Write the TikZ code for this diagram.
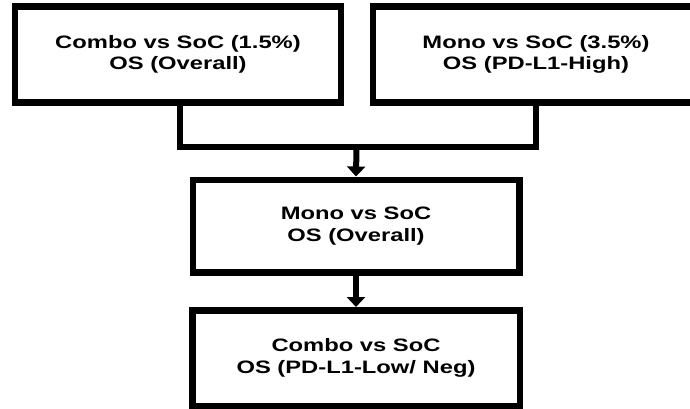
\documentclass[tikz,border=0pt]{standalone}
\usepackage{fontspec}
\usetikzlibrary{arrows.meta}
\newfontfamily\boxfont[FakeStretch=1.32]{Liberation Sans}
\begin{document}
\begin{tikzpicture}[x=1pt,y=-1pt,
  flowbox/.style={draw=black, line width=6.5pt, fill=white, rectangle,
    minimum width=326pt, align=center,
    font=\boxfont\bfseries\fontsize{18pt}{21.5pt}\selectfont},
  link/.style={draw=black, line width=6pt},
  linkarrow/.style={link, -{Triangle[width=18pt,length=10pt]}}]
  \useasboundingbox (0,0) rectangle (690,409);

  % top row
  \node[flowbox, minimum height=96pt] (combo) at (178,54.5)
    {Combo vs SoC (1.5\%)\\OS (Overall)};
  \node[flowbox, minimum height=96pt] (mono) at (536,54.5)
    {Mono vs SoC (3.5\%)\\OS (PD-L1-High)};

  % middle and bottom
  \node[flowbox, minimum height=92.5pt, minimum width=326.5pt] (overall) at (356,226)
    {Mono vs SoC\\OS (Overall)};
  \node[flowbox, minimum height=95.5pt, minimum width=327.5pt] (low) at (356,358)
    {Combo vs SoC\\OS (PD-L1-Low/ Neg)};

  % joining line and arrows
  \coordinate (join) at (356.5,146.5);
  \draw[link] (combo.south -| 180,0) |- (join) -| (mono.south);
  \draw[linkarrow] (join) -- (overall.north);
  \draw[linkarrow] (overall.south) -- (low.north);
\end{tikzpicture}
\end{document}
